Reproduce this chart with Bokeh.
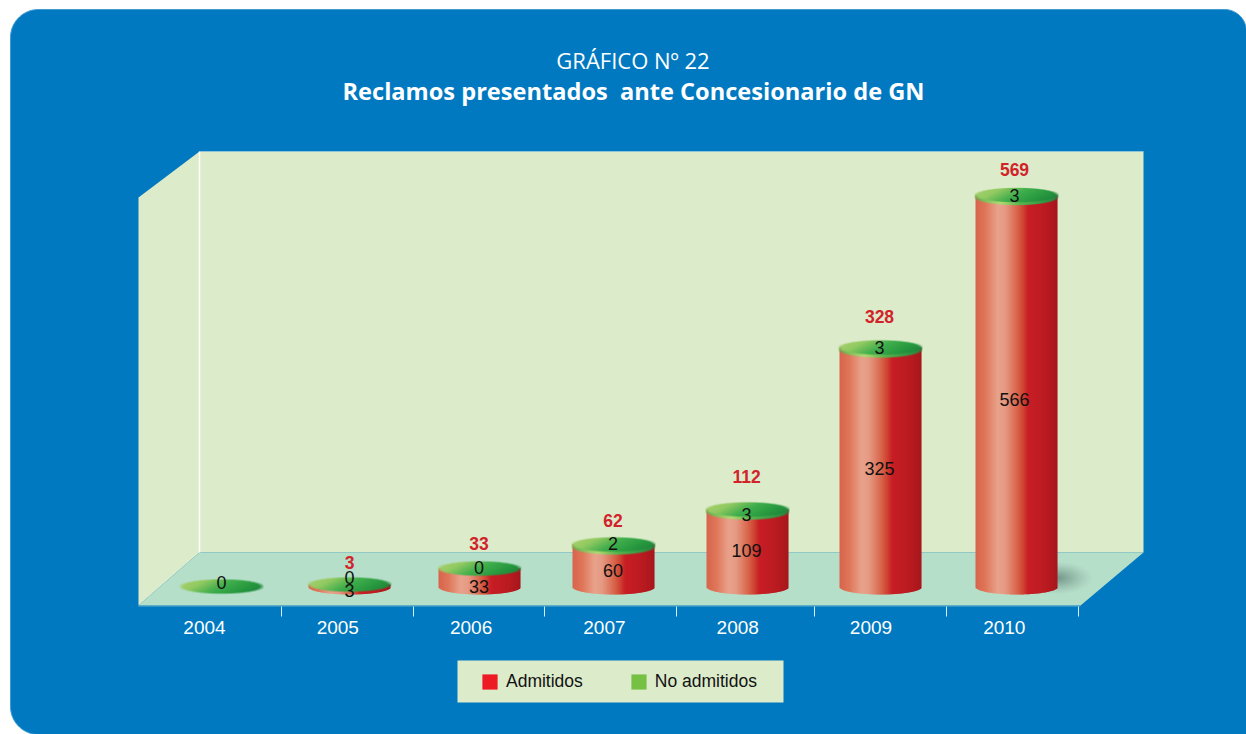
import numpy as np
from bokeh.core.properties import value
from bokeh.embed import file_html
from bokeh.models import ColumnDataSource, FixedTicker, Legend, LegendItem, LinearAxis, Range1d
from bokeh.plotting import figure
from bokeh.resources import INLINE

# ---- data
years = ["2004", "2005", "2006", "2007", "2008", "2009", "2010"]
admitidos = [0, 3, 33, 60, 109, 325, 566]
no_admitidos = [0, 0, 0, 2, 3, 3, 3]
totales = [0, 3, 33, 62, 112, 328, 569]

# ---- layout (pixels of the page); the source drawing is not strictly to scale
W, H = 1246, 734
PX_PER_UNIT = 0.7
BASE_PX = 586.5
X0_PX, STEP_PX = 615.0, 132.8
x_nudge = [4.4, -0.9, -3.2, -1.5, -0.8, -0.6, 2.6]
h_nudge = [0.5, 0.4, -4.6, 0.5, 1.2, 12.0, -4.2]
low_label_px = [0, 590, 586, 570, 550, 468, 399]
top_label_px = [582, 577, 567, 543, 514, 347, 195]
total_label_px = [0, 562, 543, 520, 476, 316, 169]
label_dx = [0, 0.5, -0.5, -1, -1, -1, -2]
RX = 41.0


def xd(px):
    return 3 + (np.asarray(px, dtype=float) - X0_PX) / STEP_PX


def yd(py):
    return (BASE_PX - np.asarray(py, dtype=float)) / PX_PER_UNIT


p = figure(width=W, height=H, output_backend="svg", toolbar_location=None,
           x_range=Range1d(float(xd(0)), float(xd(W))),
           y_range=Range1d(float(yd(H)), float(yd(0))),
           x_axis_location=None, y_axis_location=None, min_border=0,
           outline_line_color=None, background_fill_color="white",
           border_fill_color="white")
p.grid.visible = False


def hex2rgb(h):
    return np.array([int(h[i:i + 2], 16) for i in (1, 3, 5)], dtype=float)


def ramp(t, stops):
    pos = [s[0] for s in stops]
    cols = np.array([hex2rgb(s[1]) for s in stops])
    return np.stack([np.interp(t, pos, cols[:, k]) for k in range(3)], axis=-1)


def to_hex(c):
    return "#%02x%02x%02x" % tuple(int(round(v)) for v in c)


def arc(cx, cy, r, a0, a1):
    a = np.radians(np.linspace(a0, a1, 16))
    return cx + r * np.cos(a), cy + r * np.sin(a)


def poly(pts, **kw):
    p.patch(xd([q[0] for q in pts]).tolist(), yd([q[1] for q in pts]).tolist(), **kw)


# ---- rounded panel
R = 28
parts = [arc(10 + R, 9 + R, R, 180, 270), arc(1246 - 22, 9 + 22, 22, 270, 360),
         ([1247, 1247], [735, 735]), arc(10 + R, 734 - R, R, 90, 180)]
px = np.concatenate([q[0] for q in parts])
py = np.concatenate([q[1] for q in parts])
p.patch(xd(px).tolist(), yd(py).tolist(), fill_color="#0079c1", line_color="#3f9bd2", line_width=1)

# ---- 3D box
WALL, FLOOR = "#dcebca", "#b6dfca"
poly([(199, 151), (1143, 151), (1143, 552), (199, 552)], fill_color=WALL, line_color=None)
poly([(138, 197), (199, 151), (199, 552), (138, 605)], fill_color=WALL, line_color=None)
poly([(199, 552), (1143, 552), (1080, 605), (138, 605)], fill_color=FLOOR, line_color=None)
p.line(xd([199, 199]).tolist(), yd([151, 552]).tolist(), line_color="white", line_width=1.5)
p.line(xd([138, 1080]).tolist(), yd([605.5, 605.5]).tolist(), line_color="#5fb0c8", line_width=1)
p.line(xd([199, 1143]).tolist(), yd([151, 151]).tolist(), line_color="#8cc4dc", line_width=1)

# ---- title
p.text(xd([632.5]), yd([59]), text=["GRÁFICO Nº 22"], text_font=value("Open Sans"),
       text_font_size="22px", text_color="white", text_align="center", text_baseline="middle")
p.text(xd([633]), yd([90]), text=["Reclamos presentados\u00a0 ante Concesionario de GN"],
       text_font=value("Open Sans"), text_font_style="bold", text_font_size="23.6px",
       text_color="white", text_align="center", text_baseline="middle")

centres = [X0_PX + STEP_PX * (i - 3) + x_nudge[i] for i in range(7)]
tops_px = [BASE_PX - (admitidos[i] * PX_PER_UNIT + h_nudge[i]) for i in range(7)]

# ---- floor shadow behind the tallest bar
sw, sh = 64, 34
sy, sx = np.mgrid[0:sh, 0:sw]
d = np.sqrt(((sx - 26) / 33.0) ** 2 + ((sy - 17) / 15.0) ** 2)
alpha = np.clip(1.1 - d, 0, 1) ** 1.2 * 0.62
shadow = np.zeros((sh, sw, 4), dtype=np.uint8)
shadow[..., :3] = (85, 115, 105)
shadow[..., 3] = (alpha * 255).astype(np.uint8)
shadow_img = np.flipud(shadow).view(np.uint32).reshape(sh, sw)
p.image_rgba(image=[shadow_img], x=[float(xd(1030))], y=[float(yd(560 + sh))],
             dw=[float(sw / STEP_PX)], dh=[float(sh / PX_PER_UNIT)])

# ---- cylinder bodies: one thin strip per pixel column, each overlapping the next
RED_STOPS = [(0, "#d8644c"), (0.12, "#df7659"), (0.27, "#e8a28b"), (0.36, "#e59a83"),
             (0.5, "#d9684e"), (0.58, "#cf4433"), (0.64, "#c81e26"), (0.85, "#ba1b21"),
             (1, "#a6171c")]
lefts, rights, bottoms, uppers, colours = [], [], [], [], []
N = int(2 * RX)
for i in range(7):
    if admitidos[i] <= 0:
        continue
    x0 = round(centres[i] - RX)
    for k in range(N):
        u = (k + 0.5) / N
        arc_px = 7.5 * np.sqrt(max(0.0, 1 - (2 * u - 1) ** 2))
        lefts.append(float(xd(x0 + k)))
        rights.append(float(xd(x0 + k + (1.6 if k < N - 1 else 1.0))))
        bottoms.append(float(yd(BASE_PX + arc_px)))
        uppers.append(float(yd(tops_px[i])))
        colours.append(to_hex(ramp(u, RED_STOPS)))
p.quad(left="l", right="r", bottom="b", top="t", fill_color="c", line_color=None,
       source=ColumnDataSource(dict(l=lefts, r=rights, b=bottoms, t=uppers, c=colours)))


# ---- top discs
def disc(cx, cy, semi, stops, mix):
    w, h = int(2 * RX) + 2, int(2 * semi + 4)
    yy, xx = np.mgrid[0:h, 0:w]
    ex = (xx + 0.5 - w / 2) / RX
    ey = (yy + 0.5 - h / 2) / semi
    r = np.sqrt(ex ** 2 + ey ** 2)
    edge = np.clip((1 - r) * semi + 0.5, 0, 1)
    t = np.clip((ex + 1) / 2 * (1 - mix) + (ey + 1) / 2 * mix, 0, 1)
    rgb = ramp(t, stops)
    img = np.zeros((h, w, 4), dtype=np.uint8)
    img[..., :3] = rgb.astype(np.uint8)
    img[..., 3] = (edge * 255).astype(np.uint8)
    u32 = np.flipud(img).view(np.uint32).reshape(h, w)
    p.image_rgba(image=[u32], x=[float(xd(cx - w / 2))], y=[float(yd(cy + h / 2))],
                 dw=[float(w / STEP_PX)], dh=[float(h / PX_PER_UNIT)])


GREEN = [(0, "#aed36e"), (0.25, "#93ca62"), (0.5, "#3fae4c"), (0.75, "#27983f"), (1, "#1c7a3a")]
RIM = [(0, "#5fb04e"), (0.3, "#b4d873"), (0.55, "#58b44e"), (1, "#1f8a40")]
for i in range(7):
    cx = round(centres[i] - RX) + RX
    if no_admitidos[i] > 0:
        disc(cx, tops_px[i] + 2, 8.2, RIM, 0.0)
    disc(cx, tops_px[i], 7.2, GREEN, 0.25)

# ---- value labels
num_font = value("Liberation Sans")
for i in range(7):
    cx = centres[i] + label_dx[i]
    p.text([float(xd(cx))], [float(yd(top_label_px[i]))], text=[str(no_admitidos[i])],
           text_font=num_font, text_font_size="18px", text_color="#111111",
           text_align="center", text_baseline="middle")
    if admitidos[i] > 0:
        p.text([float(xd(cx))], [float(yd(low_label_px[i]))], text=[str(admitidos[i])],
               text_font=num_font, text_font_size="18px", text_color="#111111",
               text_align="center", text_baseline="middle")
    if totales[i] > 0:
        p.text([float(xd(cx))], [float(yd(total_label_px[i]))], text=[str(totales[i])],
               text_font=num_font, text_font_style="bold", text_font_size="17.5px",
               text_color="#d2232a", text_align="center", text_baseline="middle")

# ---- category axis: labels and separators sit at different places, so two axes
label_pos = [float(xd(204 + 133.3 * i)) for i in range(7)]
tick_pos = [float(xd(v)) for v in (281, 413, 544, 676, 814, 946, 1078)]
axis_y = float(yd(606))
lab_axis = LinearAxis(fixed_location=axis_y, ticker=FixedTicker(ticks=label_pos),
                      major_label_overrides={v: y for v, y in zip(label_pos, years)},
                      axis_line_color=None, major_tick_line_color=None, minor_tick_line_color=None,
                      major_tick_out=0, major_tick_in=0, major_label_standoff=14,
                      major_label_text_color="white", major_label_text_font="Liberation Sans",
                      major_label_text_font_size="19px")
tick_axis = LinearAxis(fixed_location=axis_y, ticker=FixedTicker(ticks=tick_pos),
                       major_label_text_font_size="0px", major_label_text_color=None,
                       axis_line_color=None, minor_tick_line_color=None,
                       major_tick_line_color="#d8ecf7", major_tick_line_width=1,
                       major_tick_out=10, major_tick_in=0)
p.add_layout(lab_axis, "below")
p.add_layout(tick_axis, "below")

# ---- legend
poly([(457, 660), (783, 660), (783, 702), (457, 702)], fill_color=WALL, line_color=None)
off = float(xd(-500))
r_adm = p.quad(left=[off], right=[off], bottom=[0], top=[0], fill_color="#ed1c24", line_color=None)
r_no = p.quad(left=[off], right=[off], bottom=[0], top=[0], fill_color="#76c043", line_color=None)
legend = Legend(items=[LegendItem(label="Admitidos", renderers=[r_adm]),
                       LegendItem(label="No admitidos", renderers=[r_no])],
                orientation="horizontal", location=(480, H - 692), padding=8, margin=0,
                spacing=46, glyph_width=19, glyph_height=19, label_standoff=7,
                background_fill_alpha=0, border_line_color=None,
                label_text_font="Liberation Sans", label_text_font_size="17.5px",
                label_text_color="#111111")
p.add_layout(legend, "center")

open("out.html", "w").write(file_html(p, INLINE))
